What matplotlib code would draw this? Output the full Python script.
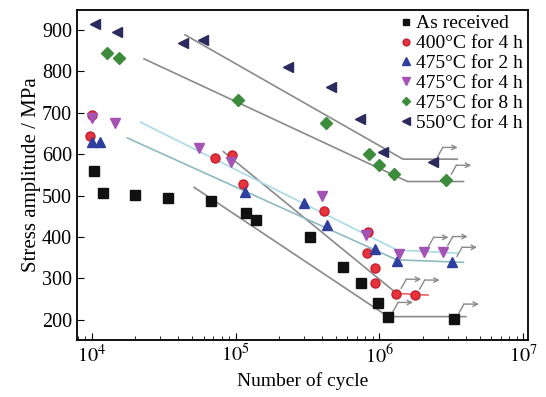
import numpy as np
import matplotlib
matplotlib.use('Agg')
import matplotlib.pyplot as plt

plt.rcParams['font.family'] = ['Liberation Serif', 'DejaVu Serif']
plt.rcParams['mathtext.fontset'] = 'stix'

# fatigue data: (cycles, stress amplitude / MPa)
as_rec_N = [1.04e4, 1.19e4, 2.0e4, 3.4e4, 6.8e4, 1.19e5, 1.38e5, 3.3e5, 5.6e5, 7.5e5, 9.8e5, 1.15e6, 3.3e6]
as_rec_S = [559, 507, 502, 495, 488, 459, 442, 400, 327, 288, 242, 206, 202]

t400_4_N = [1.0e4, 9.8e3, 7.2e4, 9.5e4, 1.12e5, 4.1e5, 8.3e5, 8.2e5, 9.3e5, 9.4e5, 1.31e6, 1.76e6]
t400_4_S = [694, 645, 591, 599, 528, 462, 412, 361, 325, 288, 262, 260]

t475_2_N = [1.0e4, 1.14e4, 1.17e5, 3.0e5, 4.3e5, 9.4e5, 1.33e6, 3.2e6]
t475_2_S = [630, 630, 508, 482, 430, 371, 343, 339]

t475_4_N = [1.0e4, 1.45e4, 5.6e4, 9.3e4, 4.0e5, 8.1e5, 1.38e6, 2.03e6, 2.76e6]
t475_4_S = [688, 675, 615, 580, 498, 405, 359, 363, 365]

t475_8_N = [1.28e4, 1.55e4, 1.04e5, 4.24e5, 8.5e5, 1.0e6, 1.26e6, 2.92e6]
t475_8_S = [845, 831, 731, 676, 600, 575, 551, 537]

t550_4_N = [1.05e4, 1.49e4, 4.3e4, 5.96e4, 2.3e5, 4.64e5, 7.3e5, 1.06e6, 2.35e6]
t550_4_S = [915, 894, 868, 876, 810, 763, 686, 605, 580]

# fitted S-N lines (start, knee, end)
fit_as_rec = ([5.15e4, 1.15e6, 4.0e6], [520, 208, 208])
fit_400 = ([8.24e4, 1.32e6], [606, 264])
fit_400_tail = ([1.32e6, 2.18e6], [264, 260])
fit_475_2 = ([1.77e4, 1.32e6, 3.84e6], [639, 345, 339])
fit_475_4 = ([2.19e4, 1.32e6, 3.47e6], [677, 369, 361])
fit_475_8 = ([2.31e4, 1.57e6, 3.85e6], [830, 534, 534])
fit_550 = ([4.45e4, 1.46e6, 3.48e6], [888, 588, 588])

# run-out specimens (marked with arrows)
runout_N = [1.15e6, 3.3e6, 1.31e6, 1.76e6, 2.03e6, 2.76e6, 3.2e6, 2.92e6, 2.35e6]
runout_S = [206, 202, 262, 260, 363, 365, 339, 537, 580]

fig = plt.figure(figsize=(5.46, 3.97), dpi=100)
ax = fig.add_axes([0.141, 0.144, 0.826, 0.831])

gray = '#8a8a8a'
ax.plot(*fit_as_rec, color=gray, lw=1.2, zorder=1)
ax.plot(*fit_400, color=gray, lw=1.2, zorder=1)
ax.plot(*fit_400_tail, color='#f06060', lw=1.2, zorder=1)
ax.plot(*fit_475_2, color='#8fb9c2', lw=1.2, zorder=1)
ax.plot(*fit_475_4, color='#a8dbe6', lw=1.2, zorder=1)
ax.plot(*fit_475_8, color=gray, lw=1.2, zorder=1)
ax.plot(*fit_550, color=gray, lw=1.2, zorder=1)

ms = 6.5
ax.plot(as_rec_N, as_rec_S, 's', color='#111111', ms=ms, ls='none', label='As received', zorder=3)
ax.plot(t400_4_N, t400_4_S, 'o', mfc='#e8333d', mec='#c02030', ms=ms, ls='none', label='400°C for 4 h', zorder=3)
ax.plot(t475_2_N, t475_2_S, '^', color='#2f3f9f', ms=ms + 0.5, ls='none', label='475°C for 2 h', zorder=3)
ax.plot(t475_4_N, t475_4_S, 'v', color='#a552b5', ms=ms + 0.5, ls='none', label='475°C for 4 h', zorder=3)
ax.plot(t475_8_N, t475_8_S, 'D', color='#3c8c3c', ms=ms - 0.5, ls='none', label='475°C for 8 h', zorder=3)
ax.plot(t550_4_N, t550_4_S, '<', color='#2b2b5e', ms=ms + 0.5, ls='none', label='550°C for 4 h', zorder=3)

# bent run-out arrows, offsets in pixels from the point
dec_px = 143.7
mpa_px = 0.4143
for n, s in zip(runout_N, runout_S):
    xs = [n * 10 ** (5 / dec_px), n * 10 ** (10 / dec_px)]
    ys = [s + 6 / mpa_px, s + 15 / mpa_px]
    ax.plot(xs, ys, color=gray, lw=1.0, zorder=2)
    ax.annotate('', xy=(n * 10 ** (25 / dec_px), ys[1]), xytext=(xs[1], ys[1]),
                arrowprops=dict(arrowstyle='->', color=gray, lw=1.0, shrinkA=0, shrinkB=0,
                                mutation_scale=8), zorder=2)

ax.set_xscale('log')
ax.set_xlim(7.9e3, 1.08e7)
ax.set_ylim(152, 948)
ax.set_yticks([200, 300, 400, 500, 600, 700, 800, 900])
ax.set_xticks([1e4, 1e5, 1e6, 1e7])
ax.set_xticklabels(['$10^4$', '$10^5$', '$10^6$', '$10^7$'])
ax.tick_params(axis='both', which='both', direction='in', labelsize=14.5)
ax.tick_params(which='major', length=5)
ax.tick_params(which='minor', length=3)
for sp in ax.spines.values():
    sp.set_linewidth(1.3)

ax.set_xlabel('Number of cycle', fontsize=14, labelpad=3)
ax.set_ylabel('Stress amplitude / MPa', fontsize=15, labelpad=1)

ax.legend(loc='upper right', frameon=False, fontsize=14, handlelength=0.6, handletextpad=0.25,
          labelspacing=0.12, borderaxespad=0.05, markerscale=0.75, borderpad=0.2)

fig.savefig('out.png', dpi=100)
